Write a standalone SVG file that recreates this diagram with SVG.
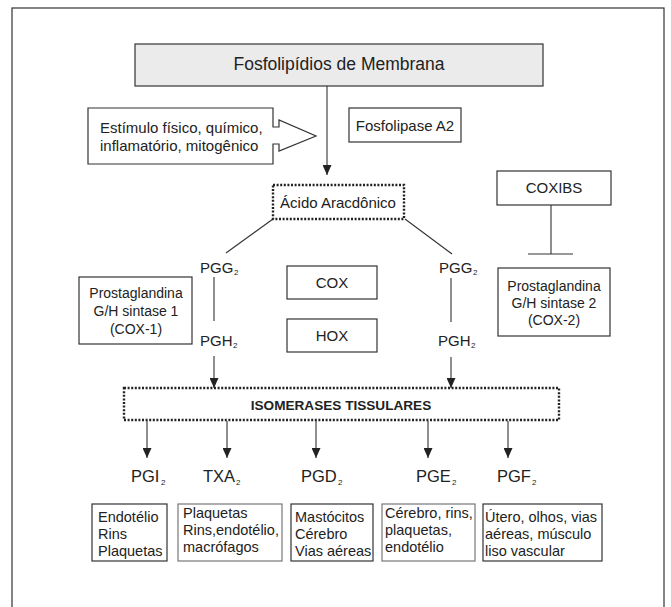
<svg xmlns="http://www.w3.org/2000/svg" width="671" height="607" viewBox="0 0 671 607">
<defs>
<style>
text{font-family:"Liberation Sans",Arial,Helvetica,sans-serif;fill:#222;}
.f15{font-size:15px;}
.f14{font-size:14px;}
.f145{font-size:14.5px;}
.lab{font-size:16.5px;}
.sub{font-size:8px;}
.mid{text-anchor:middle;}
.box{fill:#fff;stroke:#333;stroke-width:1.2;}
.gbox{fill:#fff;stroke:#777;stroke-width:1.2;}
.dot{fill:#fff;stroke:#222;stroke-width:2.4;stroke-dasharray:2 1.6;}
.ln{fill:none;stroke:#333;stroke-width:1.1;}
.arr{fill:none;stroke:#333;stroke-width:1.1;marker-end:url(#ah);}
</style>
<marker id="ah" markerUnits="userSpaceOnUse" markerWidth="10" markerHeight="9" refX="10" refY="4.5" orient="auto">
<path d="M0,0 L10,4.5 L0,9 Z" fill="#222"/>
</marker>
</defs>
<rect width="671" height="607" fill="#fff"/>
<rect id="frame" x="12" y="8" width="652" height="620" fill="none" stroke="#333" stroke-width="1.2"/>

<g id="connectors">
<path class="arr" d="M327,86 V175"/>
<path class="ln" d="M273,219 L226,253"/>
<path class="ln" d="M405,219 L452,254"/>
<path class="ln" d="M214,277 V321"/>
<path class="arr" d="M214,356 V388"/>
<path class="ln" d="M451,278 V322"/>
<path class="arr" d="M451,357 V388"/>
<path class="ln" d="M551,205 V254 M528,254 H573"/>
<path class="arr" d="M147,421 V458"/>
<path class="arr" d="M227,421 V458"/>
<path class="arr" d="M316,421 V458"/>
<path class="arr" d="M428,421 V458"/>
<path class="arr" d="M508,421 V458"/>
</g>

<g id="membrana">
<rect x="135" y="44" width="408" height="42" fill="#ebebeb" stroke="#333" stroke-width="1.2"/>
<text x="339" y="70" class="mid" style="font-size:17.5px">Fosfolipídios de Membrana</text>
</g>

<g id="estimulo">
<path class="box" d="M88,108 H273 V127 H279 V120 L316,136 L279,151 V144 H273 V164 H88 Z"/>
<text x="100" y="133" class="f15">Estímulo físico, químico,</text>
<text x="100" y="151" class="f15">inflamatório, mitogênico</text>
</g>

<g id="fosfolipase">
<rect class="box" x="349" y="108" width="112" height="34"/>
<text x="405" y="131" class="f15 mid">Fosfolipase A2</text>
</g>

<g id="acido">
<rect class="dot" x="273" y="185" width="131" height="34"/>
<text x="338" y="208" class="f15 mid">Ácido Aracdônico</text>
</g>

<g id="coxibs">
<rect class="box" x="497" y="171" width="114" height="34"/>
<text x="554" y="193" class="f15 mid">COXIBS</text>
</g>

<g id="pgg-left">
<text x="200" y="273" class="f15">PGG</text><text x="234" y="275" class="sub">2</text>
</g>
<g id="pgh-left">
<text x="200" y="346" class="f15">PGH</text><text x="233" y="348" class="sub">2</text>
</g>
<g id="pgg-right">
<text x="439" y="273" class="f15">PGG</text><text x="473" y="275" class="sub">2</text>
</g>
<g id="pgh-right">
<text x="438" y="346" class="f15">PGH</text><text x="471" y="348" class="sub">2</text>
</g>

<g id="cox1">
<rect class="box" x="79" y="277" width="113" height="67"/>
<text x="136" y="298" class="f14 mid">Prostaglandina</text>
<text x="136" y="316" class="f14 mid">G/H sintase 1</text>
<text x="136" y="334" class="f14 mid">(COX-1)</text>
</g>

<g id="cox2">
<rect class="box" x="498" y="268" width="112" height="68"/>
<text x="554" y="291" class="f14 mid">Prostaglandina</text>
<text x="554" y="308" class="f14 mid">G/H sintase 2</text>
<text x="554" y="325" class="f14 mid">(COX-2)</text>
</g>

<g id="cox">
<rect class="box" x="287" y="266" width="90" height="33"/>
<text x="332" y="288" class="f15 mid">COX</text>
</g>
<g id="hox">
<rect class="box" x="287" y="319" width="90" height="33"/>
<text x="332" y="341" class="f15 mid">HOX</text>
</g>

<g id="isomerases">
<rect class="dot" x="124" y="388" width="435" height="32"/>
<text x="341" y="410" class="mid" style="font-size:13.6px;font-weight:bold">ISOMERASES TISSULARES</text>
</g>

<g id="pgi2"><text x="131" y="482" class="lab">PGI</text><text x="161" y="485" class="sub">2</text></g>
<g id="txa2"><text x="203" y="482" class="lab">TXA</text><text x="236" y="485" class="sub">2</text></g>
<g id="pgd2"><text x="301" y="482" class="lab">PGD</text><text x="338" y="485" class="sub">2</text></g>
<g id="pge2"><text x="416" y="482" class="lab">PGE</text><text x="452" y="485" class="sub">2</text></g>
<g id="pgf2"><text x="497" y="482" class="lab">PGF</text><text x="532" y="485" class="sub">2</text></g>

<g id="tec-pgi2">
<rect class="box" x="92" y="504" width="75" height="57"/>
<text x="98" y="522" class="f145">Endotélio</text>
<text x="98" y="539" class="f145">Rins</text>
<text x="98" y="556" class="f145">Plaquetas</text>
</g>
<g id="tec-txa2">
<rect class="gbox" x="178" y="504" width="104" height="57"/>
<text x="183" y="518" class="f145">Plaquetas</text>
<text x="183" y="535" class="f145">Rins,endotélio,</text>
<text x="183" y="552" class="f145">macrófagos</text>
</g>
<g id="tec-pgd2">
<rect class="box" x="291" y="504" width="82" height="57"/>
<text x="295" y="522" class="f145">Mastócitos</text>
<text x="295" y="539" class="f145">Cérebro</text>
<text x="295" y="556" class="f145">Vias aéreas</text>
</g>
<g id="tec-pge2">
<rect class="gbox" x="382" y="504" width="93" height="57"/>
<text x="385" y="518" class="f145">Cérebro, rins,</text>
<text x="385" y="535" class="f145">plaquetas,</text>
<text x="385" y="552" class="f145">endotélio</text>
</g>
<g id="tec-pgf2">
<rect class="box" x="483" y="504" width="119" height="57"/>
<text x="485" y="522" class="f145">Útero, olhos, vias</text>
<text x="485" y="539" class="f145">aéreas, músculo</text>
<text x="485" y="556" class="f145">liso vascular</text>
</g>
</svg>
